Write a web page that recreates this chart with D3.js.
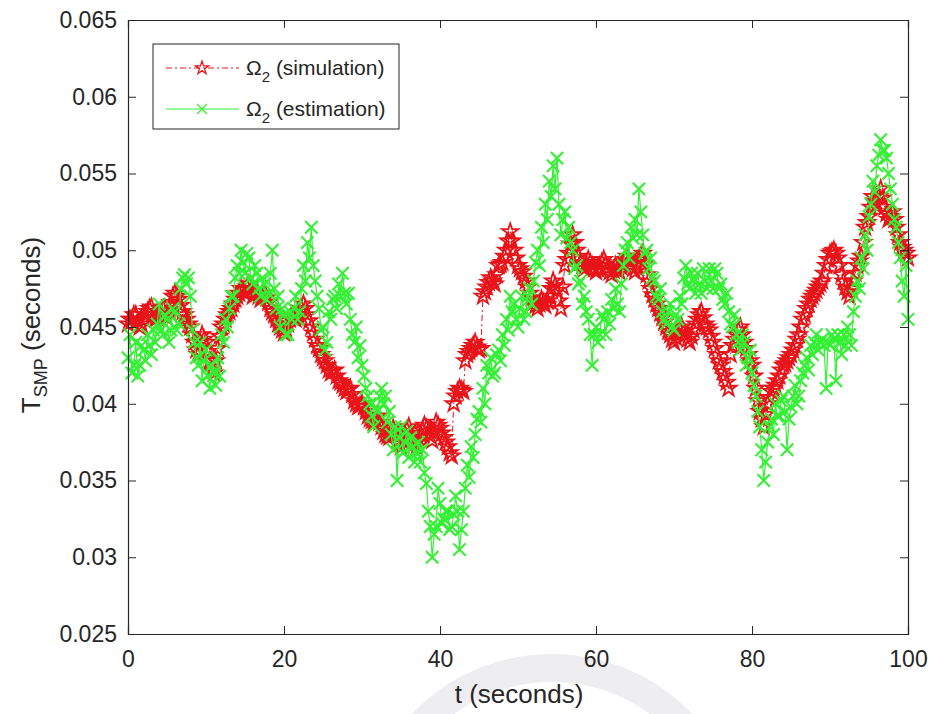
<!DOCTYPE html>
<html>
<head>
<meta charset="utf-8">
<script src="https://cdn.jsdelivr.net/npm/d3@7"></script>
<style>
  html, body { margin: 0; padding: 0; background: #fff; }
  svg { display: block; font-family: "Liberation Sans", Arial, sans-serif; }
</style>
</head>
<body>
<svg id="chart" width="931" height="714"></svg>
<script>
// Time axis: one sample every 0.25 s from 0 to 100 s
const tStart = 0, tStep = 0.25;

// Sampling period T_SMP, simulation (seconds), 5 s per row
const simulation = [
  0.0452,0.0455,0.0455,0.0458,0.0458,0.0454,0.0450,0.0452,0.0455,0.0458,0.0460,0.0462,0.0463,0.0458,0.0455,0.0456,0.0458,0.0460,0.0462,0.0458,
  0.0456,0.0460,0.0466,0.0470,0.0472,0.0470,0.0468,0.0464,0.0460,0.0458,0.0455,0.0452,0.0450,0.0445,0.0440,0.0435,0.0432,0.0440,0.0445,0.0442,
  0.0440,0.0434,0.0428,0.0422,0.0420,0.0428,0.0436,0.0444,0.0450,0.0452,0.0455,0.0458,0.0460,0.0462,0.0465,0.0468,0.0470,0.0472,0.0475,0.0474,
  0.0472,0.0476,0.0478,0.0474,0.0470,0.0472,0.0474,0.0470,0.0468,0.0470,0.0472,0.0469,0.0466,0.0462,0.0460,0.0458,0.0455,0.0452,0.0450,0.0448,
  0.0446,0.0449,0.0452,0.0455,0.0458,0.0456,0.0455,0.0458,0.0460,0.0462,0.0465,0.0462,0.0458,0.0454,0.0450,0.0446,0.0442,0.0438,0.0436,0.0432,
  0.0430,0.0428,0.0425,0.0422,0.0420,0.0421,0.0422,0.0418,0.0415,0.0414,0.0412,0.0410,0.0408,0.0409,0.0410,0.0406,0.0402,0.0400,0.0398,0.0399,
  0.0400,0.0398,0.0395,0.0392,0.0390,0.0389,0.0388,0.0390,0.0392,0.0388,0.0385,0.0382,0.0380,0.0379,0.0378,0.0381,0.0384,0.0380,0.0376,0.0374,
  0.0372,0.0376,0.0380,0.0383,0.0385,0.0381,0.0377,0.0374,0.0372,0.0376,0.0380,0.0383,0.0386,0.0384,0.0382,0.0379,0.0376,0.0382,0.0388,0.0386,
  0.0384,0.0381,0.0378,0.0375,0.0372,0.0368,0.0366,0.0400,0.0405,0.0408,0.0410,0.0409,0.0408,0.0428,0.0432,0.0434,0.0436,0.0438,0.0440,0.0437,
  0.0435,0.0436,0.0470,0.0473,0.0476,0.0479,0.0482,0.0480,0.0478,0.0484,0.0490,0.0491,0.0492,0.0496,0.0500,0.0506,0.0512,0.0506,0.0500,0.0495,
  0.0490,0.0488,0.0486,0.0483,0.0480,0.0476,0.0472,0.0469,0.0466,0.0464,0.0462,0.0465,0.0468,0.0466,0.0464,0.0467,0.0470,0.0475,0.0480,0.0477,
  0.0474,0.0467,0.0462,0.0476,0.0490,0.0494,0.0498,0.0504,0.0510,0.0505,0.0500,0.0496,0.0492,0.0490,0.0488,0.0491,0.0494,0.0492,0.0490,0.0488,
  0.0486,0.0488,0.0490,0.0492,0.0494,0.0491,0.0488,0.0486,0.0484,0.0487,0.0490,0.0488,0.0486,0.0489,0.0492,0.0494,0.0496,0.0493,0.0490,0.0488,
  0.0486,0.0490,0.0494,0.0496,0.0498,0.0491,0.0484,0.0480,0.0475,0.0471,0.0468,0.0465,0.0462,0.0459,0.0456,0.0453,0.0450,0.0447,0.0445,0.0442,
  0.0440,0.0443,0.0446,0.0448,0.0450,0.0447,0.0445,0.0442,0.0440,0.0444,0.0448,0.0452,0.0455,0.0458,0.0460,0.0456,0.0452,0.0450,0.0448,0.0444,
  0.0440,0.0436,0.0432,0.0428,0.0425,0.0421,0.0418,0.0414,0.0410,0.0432,0.0438,0.0442,0.0445,0.0448,0.0450,0.0445,0.0440,0.0436,0.0432,0.0428,
  0.0425,0.0418,0.0410,0.0402,0.0395,0.0390,0.0385,0.0393,0.0400,0.0404,0.0408,0.0410,0.0412,0.0415,0.0418,0.0422,0.0425,0.0426,0.0428,0.0430,
  0.0432,0.0435,0.0438,0.0442,0.0445,0.0450,0.0455,0.0458,0.0462,0.0465,0.0468,0.0470,0.0472,0.0474,0.0476,0.0478,0.0480,0.0485,0.0490,0.0494,
  0.0498,0.0499,0.0500,0.0498,0.0495,0.0490,0.0484,0.0480,0.0476,0.0473,0.0470,0.0475,0.0480,0.0485,0.0490,0.0493,0.0496,0.0505,0.0515,0.0518,
  0.0522,0.0528,0.0535,0.0532,0.0530,0.0535,0.0540,0.0534,0.0528,0.0524,0.0520,0.0522,0.0525,0.0520,0.0515,0.0510,0.0505,0.0502,0.0500,0.0498,
  0.0495
];

// Sampling period T_SMP, estimation (seconds), 5 s per row
const estimation = [
  0.0430,0.0445,0.0420,0.0425,0.0440,0.0418,0.0425,0.0438,0.0435,0.0428,0.0445,0.0438,0.0432,0.0448,0.0440,0.0452,0.0465,0.0448,0.0445,0.0458,
  0.0455,0.0440,0.0448,0.0462,0.0460,0.0448,0.0452,0.0475,0.0482,0.0484,0.0478,0.0482,0.0470,0.0448,0.0440,0.0430,0.0425,0.0440,0.0415,0.0428,
  0.0435,0.0418,0.0410,0.0425,0.0420,0.0412,0.0430,0.0418,0.0445,0.0440,0.0455,0.0450,0.0462,0.0470,0.0470,0.0482,0.0490,0.0485,0.0500,0.0492,
  0.0485,0.0498,0.0495,0.0482,0.0478,0.0490,0.0485,0.0475,0.0470,0.0482,0.0478,0.0468,0.0472,0.0485,0.0500,0.0475,0.0462,0.0470,0.0450,0.0462,
  0.0458,0.0445,0.0445,0.0460,0.0455,0.0462,0.0470,0.0455,0.0460,0.0475,0.0490,0.0480,0.0505,0.0495,0.0515,0.0490,0.0480,0.0470,0.0462,0.0448,
  0.0450,0.0435,0.0440,0.0460,0.0455,0.0468,0.0470,0.0462,0.0478,0.0470,0.0485,0.0472,0.0465,0.0472,0.0455,0.0445,0.0440,0.0450,0.0430,0.0438,
  0.0425,0.0418,0.0410,0.0405,0.0400,0.0392,0.0385,0.0398,0.0395,0.0405,0.0410,0.0400,0.0405,0.0388,0.0395,0.0380,0.0370,0.0385,0.0350,0.0378,
  0.0385,0.0368,0.0375,0.0382,0.0365,0.0378,0.0372,0.0362,0.0368,0.0375,0.0362,0.0370,0.0355,0.0348,0.0330,0.0320,0.0300,0.0315,0.0320,0.0345,
  0.0335,0.0322,0.0325,0.0330,0.0330,0.0318,0.0320,0.0328,0.0340,0.0330,0.0305,0.0318,0.0330,0.0345,0.0360,0.0352,0.0372,0.0365,0.0380,0.0390,
  0.0395,0.0388,0.0410,0.0400,0.0425,0.0420,0.0430,0.0418,0.0420,0.0432,0.0435,0.0428,0.0445,0.0438,0.0455,0.0448,0.0470,0.0460,0.0465,0.0455,
  0.0450,0.0462,0.0470,0.0455,0.0460,0.0470,0.0475,0.0465,0.0480,0.0492,0.0500,0.0490,0.0515,0.0505,0.0530,0.0520,0.0545,0.0535,0.0555,0.0540,
  0.0560,0.0530,0.0510,0.0520,0.0525,0.0508,0.0515,0.0505,0.0500,0.0488,0.0490,0.0478,0.0480,0.0465,0.0470,0.0460,0.0455,0.0445,0.0425,0.0445,
  0.0450,0.0440,0.0445,0.0458,0.0455,0.0445,0.0460,0.0452,0.0468,0.0462,0.0475,0.0465,0.0460,0.0478,0.0490,0.0500,0.0505,0.0495,0.0515,0.0508,
  0.0520,0.0510,0.0540,0.0525,0.0510,0.0498,0.0500,0.0488,0.0495,0.0482,0.0480,0.0470,0.0468,0.0475,0.0460,0.0455,0.0452,0.0460,0.0465,0.0450,
  0.0448,0.0458,0.0455,0.0470,0.0465,0.0482,0.0490,0.0478,0.0475,0.0485,0.0480,0.0472,0.0485,0.0478,0.0472,0.0488,0.0480,0.0475,0.0488,0.0480,
  0.0475,0.0488,0.0485,0.0475,0.0478,0.0468,0.0465,0.0472,0.0460,0.0452,0.0450,0.0458,0.0445,0.0440,0.0435,0.0445,0.0440,0.0425,0.0430,0.0435,
  0.0420,0.0412,0.0405,0.0395,0.0385,0.0370,0.0350,0.0362,0.0375,0.0385,0.0390,0.0380,0.0400,0.0392,0.0392,0.0402,0.0405,0.0395,0.0370,0.0390,
  0.0398,0.0405,0.0412,0.0400,0.0405,0.0415,0.0420,0.0425,0.0430,0.0422,0.0438,0.0432,0.0440,0.0445,0.0435,0.0440,0.0442,0.0438,0.0410,0.0440,
  0.0438,0.0445,0.0442,0.0415,0.0445,0.0440,0.0432,0.0445,0.0438,0.0450,0.0445,0.0438,0.0460,0.0470,0.0480,0.0475,0.0495,0.0488,0.0510,0.0500,
  0.0522,0.0530,0.0545,0.0538,0.0555,0.0562,0.0572,0.0565,0.0565,0.0560,0.0550,0.0540,0.0530,0.0520,0.0515,0.0505,0.0495,0.0480,0.0470,0.0490,
  0.0455
];

const xTicks = [0, 20, 40, 60, 80, 100];
const yTicks = [0.025, 0.03, 0.035, 0.04, 0.045, 0.05, 0.055, 0.06, 0.065];
const seriesNames = ["simulation", "estimation"];

const margin = { left: 128, right: 23, top: 20, bottom: 80 };
const W = 931, H = 714;
const iw = W - margin.left - margin.right;
const ih = H - margin.top - margin.bottom;

const svg = d3.select("#chart");

// faint ring emblem in the page background, below the axis title
svg.append("circle").attr("cx", 552).attr("cy", 848).attr("r", 180)
  .attr("fill", "none").attr("stroke", "#eeeef1").attr("stroke-width", 28);

const g = svg.append("g").attr("transform", `translate(${margin.left},${margin.top})`);

const x = d3.scaleLinear().domain([0, 100]).range([0, iw]);
const y = d3.scaleLinear().domain([0.025, 0.065]).range([ih, 0]);

const toPoints = arr => arr.map((v, i) => ({ t: tStart + i * tStep, v }));
const simPts = toPoints(simulation);
const estPts = toPoints(estimation);

const RED = "#e8141a";
const GREEN = "#33f033";

// Pentagram marker path centred on the origin
function starPath(r) {
  const pts = [];
  const ri = r * 0.382;
  for (let k = 0; k < 10; k++) {
    const a = -Math.PI / 2 + k * Math.PI / 5;
    const rr = k % 2 === 0 ? r : ri;
    pts.push([rr * Math.cos(a), rr * Math.sin(a)]);
  }
  return "M" + pts.map(p => p[0].toFixed(2) + "," + p[1].toFixed(2)).join("L") + "Z";
}
function crossPath(r) {
  return `M${-r},${-r}L${r},${r}M${-r},${r}L${r},${-r}`;
}

const line = d3.line().x(d => x(d.t)).y(d => y(d.v));

const plot = g.append("g");

// simulation: dash-dot line with star markers
plot.append("path").datum(simPts)
  .attr("d", line).attr("fill", "none")
  .attr("stroke", RED).attr("stroke-width", 1)
  .attr("stroke-dasharray", "6,3,2,3");
plot.append("g").selectAll("path").data(simPts).join("path")
  .attr("transform", d => `translate(${x(d.t)},${y(d.v)})`)
  .attr("d", starPath(8.5))
  .attr("fill", "none").attr("stroke", RED).attr("stroke-width", 1.8);

// estimation: solid line with x markers
plot.append("path").datum(estPts)
  .attr("d", line).attr("fill", "none")
  .attr("stroke", GREEN).attr("stroke-width", 1.2);
plot.append("g").selectAll("path").data(estPts).join("path")
  .attr("transform", d => `translate(${x(d.t)},${y(d.v)})`)
  .attr("d", crossPath(6.2))
  .attr("fill", "none").attr("stroke", GREEN).attr("stroke-width", 2.1);

// Axes box with inward ticks on all four sides
const tickLen = 8;
const axisColor = "#262626";
const fontSize = 23;
const labelSize = 26;

const xAxisB = d3.axisBottom(x).tickValues(xTicks).tickSize(-tickLen).tickPadding(17)
  .tickFormat(d3.format("d"));
const xAxisT = d3.axisTop(x).tickValues(xTicks).tickSize(-tickLen).tickFormat("");
const yAxisL = d3.axisLeft(y).tickValues(yTicks).tickSize(-tickLen).tickPadding(11)
  .tickFormat(d => d3.format("")(+d.toFixed(3)));
const yAxisR = d3.axisRight(y).tickValues(yTicks).tickSize(-tickLen).tickFormat("");

function styleAxis(sel) {
  sel.select(".domain").attr("stroke", axisColor).attr("stroke-width", 1.2);
  sel.selectAll(".tick line").attr("stroke", axisColor).attr("stroke-width", 1);
  sel.selectAll(".tick text").attr("fill", "#262626").style("font-size", fontSize + "px")
    .style("font-family", "Liberation Sans, Arial, sans-serif");
}
g.append("g").attr("transform", `translate(0,${ih})`).call(xAxisB).call(styleAxis);
g.append("g").call(xAxisT).call(styleAxis);
g.append("g").call(yAxisL).call(styleAxis);
g.append("g").attr("transform", `translate(${iw},0)`).call(yAxisR).call(styleAxis);

// Axis titles
svg.append("text")
  .attr("x", 519).attr("y", 703)
  .attr("text-anchor", "middle").attr("fill", "#262626")
  .style("font-size", labelSize + "px").text("t (seconds)");

const yl = svg.append("text")
  .attr("transform", `translate(40,325) rotate(-90)`)
  .attr("text-anchor", "middle").attr("fill", "#262626")
  .style("font-size", labelSize + "px");
yl.append("tspan").text("T");
yl.append("tspan").attr("dy", 7).style("font-size", "18px").text("SMP");
yl.append("tspan").attr("dy", -7).text(" (seconds)");

// Legend
const lg = svg.append("g").attr("transform", "translate(153,44)");
lg.append("rect").attr("width", 246).attr("height", 85)
  .attr("fill", "#fff").attr("stroke", axisColor).attr("stroke-width", 1);

const legendRows = [
  { name: seriesNames[0], color: RED, dash: "6,3,2,3", marker: starPath(7), w: 1.3, cy: 24 },
  { name: seriesNames[1], color: GREEN, dash: null, marker: crossPath(5), w: 1.3, cy: 65 }
];
legendRows.forEach(r => {
  lg.append("line").attr("x1", 13).attr("x2", 86).attr("y1", r.cy).attr("y2", r.cy)
    .attr("stroke", r.color).attr("stroke-width", 1)
    .attr("stroke-dasharray", r.dash);
  lg.append("path").attr("transform", `translate(49,${r.cy})`).attr("d", r.marker)
    .attr("fill", "none").attr("stroke", r.color).attr("stroke-width", r.w);
  const t = lg.append("text").attr("x", 93).attr("y", r.cy + 7)
    .attr("fill", "#262626").style("font-size", "21px");
  t.append("tspan").text("\u03A9");
  t.append("tspan").attr("dy", 7).style("font-size", "15px").text("2");
  t.append("tspan").attr("dy", -7).text(` (${r.name})`);
});
</script>
</body>
</html>
